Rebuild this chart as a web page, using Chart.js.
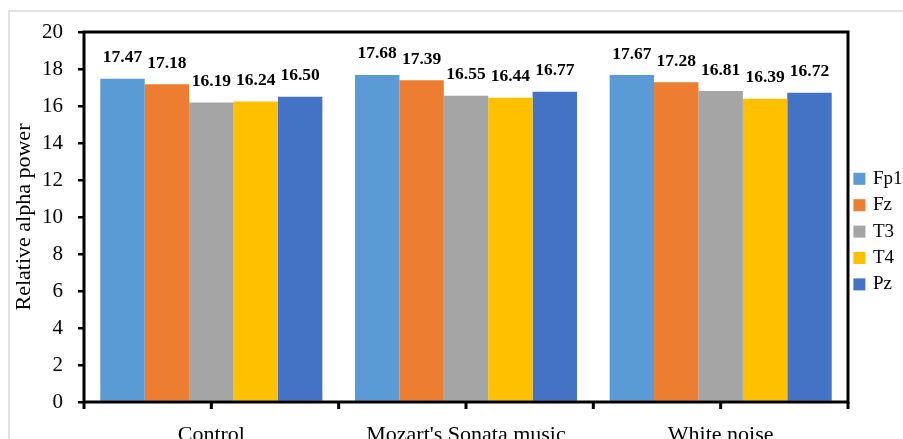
<!DOCTYPE html>
<html>
<head>
<meta charset="utf-8">
<script src="https://cdn.jsdelivr.net/npm/chart.js@4.4.1/dist/chart.umd.min.js"></script>
<style>
  html, body { margin: 0; padding: 0; background: #fff; }
  #wrap { width: 903px; height: 439px; }
</style>
</head>
<body>
<div id="wrap"><canvas id="chart" width="903" height="439"></canvas></div>
<script>
// Relative alpha power per electrode under each listening condition
const conditions = ['Control', "Mozart's Sonata music", 'White noise'];
const channels = ['Fp1', 'Fz', 'T3', 'T4', 'Pz'];
const fp1 = [17.47, 17.68, 17.67];
const fz  = [17.18, 17.39, 17.28];
const t3  = [16.19, 16.55, 16.81];
const t4  = [16.24, 16.44, 16.39];
const pz  = [16.50, 16.77, 16.72];
const yMin = 0, yMax = 20, yStep = 2;

const seriesValues = [fp1, fz, t3, t4, pz];
const seriesColors = ['#5B9BD5', '#ED7D31', '#A5A5A5', '#FFC000', '#4472C4'];

const SERIF = '"Liberation Serif", "Times New Roman", serif';

// White page with the thin grey outer frame
const pageFrame = {
  id: 'pageFrame',
  beforeDraw(chart) {
    const ctx = chart.ctx;
    ctx.save();
    ctx.fillStyle = '#fff';
    ctx.fillRect(0, 0, chart.width, chart.height);
    ctx.strokeStyle = '#d9d9d9';
    ctx.lineWidth = 1.5;
    ctx.strokeRect(9, 11, chart.width + 50, chart.height + 50);
    ctx.restore();
  }
};

// Black plot box, category tick marks and value labels above bars
const plotDecor = {
  id: 'plotDecor',
  afterDatasetsDraw(chart) {
    const ctx = chart.ctx;
    const area = chart.chartArea;
    const xs = chart.scales.x;
    ctx.save();

    // value labels
    ctx.font = 'bold 17.5px ' + SERIF;
    ctx.fillStyle = '#000';
    ctx.textAlign = 'center';
    ctx.textBaseline = 'middle';
    chart.data.datasets.forEach((ds, i) => {
      const meta = chart.getDatasetMeta(i);
      meta.data.forEach((bar, j) => {
        ctx.fillText(ds.data[j].toFixed(2), bar.x, bar.y - 21);
      });
    });

    // plot box
    ctx.strokeStyle = '#000';
    ctx.lineWidth = 3;
    ctx.strokeRect(area.left, area.top, area.right - area.left, area.bottom - area.top);

    // x tick marks at category edges and centres
    const n = chart.data.labels.length;
    const half = (xs.right - xs.left) / n / 2;
    ctx.lineWidth = 3;
    ctx.beginPath();
    for (let i = 0; i < n; i++) {
      const c = xs.getPixelForValue(i);
      [c - half, c].forEach(px => {
        ctx.moveTo(px, area.bottom);
        ctx.lineTo(px, area.bottom + 7);
      });
      if (i === n - 1) {
        ctx.moveTo(c + half, area.bottom);
        ctx.lineTo(c + half, area.bottom + 7);
      }
    }
    ctx.stroke();
    ctx.restore();
  }
};

new Chart(document.getElementById('chart'), {
  type: 'bar',
  data: {
    labels: conditions,
    datasets: channels.map((name, i) => ({
      label: name,
      data: seriesValues[i],
      backgroundColor: seriesColors[i],
      borderWidth: 0,
      categoryPercentage: 0.872,
      barPercentage: 1.0
    }))
  },
  options: {
    responsive: false,
    animation: false,
    devicePixelRatio: 1,
    layout: { padding: { top: 32, right: 0, bottom: 0, left: 0 } },
    plugins: {
      tooltip: { enabled: false },
      legend: {
        position: 'right',
        align: 'center',
        fullSize: false,
        maxWidth: 55,
        title: {
          display: true,
          text: '',
          padding: { top: 14.8, bottom: 0 },
          font: { family: SERIF, size: 12 }
        },
        labels: {
          usePointStyle: true,
          pointStyle: 'rect',
          boxWidth: 8,
          boxHeight: 12,
          padding: 7.4,
          color: '#000',
          font: { family: SERIF, size: 19 }
        }
      }
    },
    scales: {
      x: {
        grid: { display: false },
        border: { display: false },
        ticks: {
          color: '#000',
          padding: 12,
          maxRotation: 0,
          autoSkip: false,
          font: { family: SERIF, size: 22 }
        },
        afterFit(scale) { scale.height = 37; }
      },
      y: {
        min: yMin,
        max: yMax,
        grid: {
          drawOnChartArea: false,
          color: '#000',
          lineWidth: 2.5,
          tickLength: 6,
          tickWidth: 2.5,
          tickColor: '#000'
        },
        border: { display: false },
        ticks: {
          stepSize: yStep,
          color: '#000',
          padding: 15,
          font: { family: SERIF, size: 21 }
        },
        title: {
          display: true,
          text: 'Relative alpha power',
          color: '#000',
          padding: { top: 11, bottom: 0 },
          font: { family: SERIF, size: 22 }
        },
        afterFit(scale) { scale.width = 84; }
      }
    }
  },
  plugins: [pageFrame, plotDecor]
});
</script>
</body>
</html>
